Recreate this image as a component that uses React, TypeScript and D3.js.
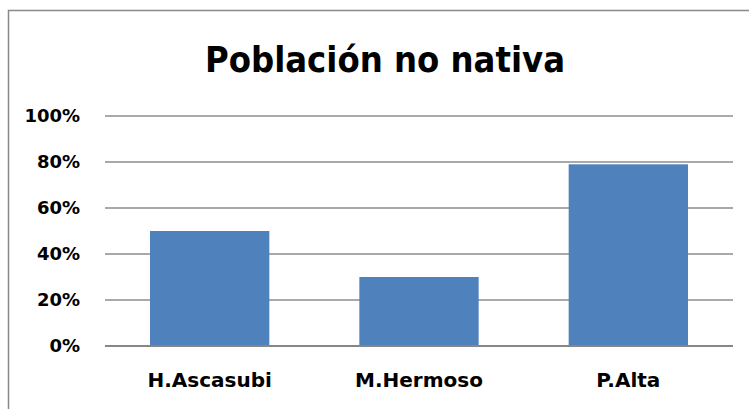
import React from 'react';
import * as d3 from 'd3';

const categories = ['H.Ascasubi', 'M.Hermoso', 'P.Alta'];
const values = [0.5, 0.3, 0.79];
const yTicks = [0, 0.2, 0.4, 0.6, 0.8, 1];
const title = 'Población no nativa';

const width = 749;
const height = 409;
const margin = { top: 116, right: 16, bottom: 63, left: 105 };
const font = '"DejaVu Sans", sans-serif';
const titleFont = '"DejaVu Sans Condensed", "DejaVu Sans", sans-serif';

const App = () => {
  const x = d3
    .scaleBand<string>()
    .domain(categories)
    .range([margin.left, width - margin.right])
    .paddingInner(0.43)
    .paddingOuter(0.215);

  const y = d3
    .scaleLinear()
    .domain([0, 1])
    .range([height - margin.bottom, margin.top]);

  const fmt = d3.format('.0%');

  return (
    <svg
      width={width}
      height={height}
      style={{ position: 'fixed', left: 0, top: 0, background: '#fff' }}
    >
      {/* chart frame, runs off the right and bottom */}
      <rect x={8.5} y={10.5} width={800} height={500} fill="none" stroke="#898989" strokeWidth={1.5} />

      <text
        x={385}
        y={72}
        textAnchor="middle"
        fontFamily={titleFont}
        fontStretch="condensed"
        fontWeight="bold"
        fontSize={36}
        fill="#000"
      >
        {title}
      </text>

      {/* grid lines */}
      {yTicks.map((t) => (
        <line
          key={t}
          x1={margin.left}
          x2={width - margin.right}
          y1={y(t)}
          y2={y(t)}
          stroke="#8c8c8c"
          strokeWidth={1.5}
        />
      ))}

      {/* bars */}
      {categories.map((c, i) => (
        <rect
          key={c}
          x={x(c)}
          y={y(values[i])}
          width={x.bandwidth()}
          height={y(0) - y(values[i])}
          fill="#4f81bd"
        />
      ))}

      {/* baseline over the bars */}
      <line
        x1={margin.left}
        x2={width - margin.right}
        y1={y(0)}
        y2={y(0)}
        stroke="#868686"
        strokeWidth={2}
      />

      {/* y tick labels */}
      {yTicks.map((t) => (
        <text
          key={t}
          x={80}
          y={y(t)}
          dy="0.36em"
          textAnchor="end"
          fontFamily={font}
          fontWeight="bold"
          fontSize={18}
          fill="#000"
        >
          {fmt(t)}
        </text>
      ))}

      {/* x category labels */}
      {categories.map((c) => (
        <text
          key={c}
          x={(x(c) ?? 0) + x.bandwidth() / 2}
          y={387}
          textAnchor="middle"
          fontFamily={font}
          fontWeight="bold"
          fontSize={20}
          fill="#000"
        >
          {c}
        </text>
      ))}
    </svg>
  );
};

export default App;
